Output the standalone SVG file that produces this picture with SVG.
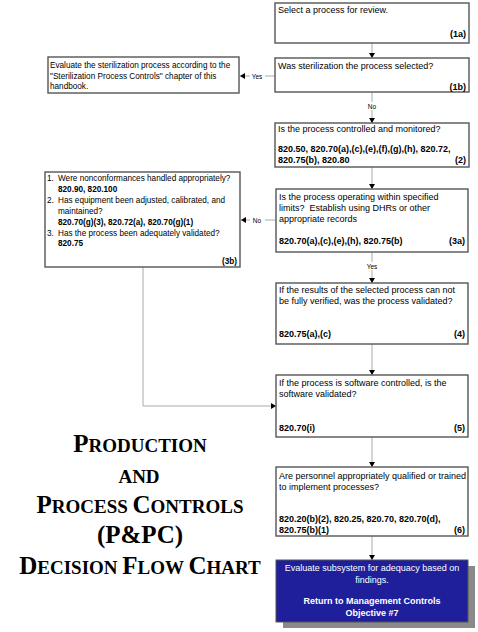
<svg xmlns="http://www.w3.org/2000/svg" width="478" height="632" viewBox="0 0 478 632">
<defs>
<marker id="ah" markerWidth="6" markerHeight="6" refX="5" refY="3" orient="auto" markerUnits="userSpaceOnUse">
<path d="M0,0 L5,3 L0,6 Z" fill="#000"/>
</marker>
<style>
.box{fill:#fff;stroke:#555;stroke-width:1.4}
.t{font-family:"Liberation Sans",Arial,sans-serif;font-size:9px;fill:#000}
.s{font-family:"Liberation Sans",Arial,sans-serif;font-size:8.2px;fill:#000}
.b{font-weight:bold}
.r{text-anchor:end}
.lbl{font-family:"Liberation Sans",Arial,sans-serif;font-size:6.5px;fill:#000;text-anchor:middle}
.c{fill:none;stroke:#aaa;stroke-width:1}
.w{font-family:"Liberation Sans",Arial,sans-serif;font-size:9px;fill:#fff;text-anchor:middle}
.ttl{font-family:"Liberation Serif","Times New Roman",serif;font-weight:bold;fill:#000;text-anchor:middle;font-size:19px}
.big{font-size:25px}
</style>
</defs>
<rect width="478" height="632" fill="#fff"/>

<g id="connectors">
<path class="c" d="M372,43 V58" marker-end="url(#ah)"/>
<path class="c" d="M372,92 V123" marker-end="url(#ah)"/>
<path class="c" d="M372,167 V189" marker-end="url(#ah)"/>
<path class="c" d="M372,252 V283" marker-end="url(#ah)"/>
<path class="c" d="M372,344 V375" marker-end="url(#ah)"/>
<path class="c" d="M372,437 V467" marker-end="url(#ah)"/>
<path class="c" d="M372,536 V560" marker-end="url(#ah)"/>
<path class="c" d="M275,76 H240" marker-end="url(#ah)"/>
<path class="c" d="M276,220 H241" marker-end="url(#ah)"/>
<path class="c" d="M143,267 V406 H276" marker-end="url(#ah)"/>
<rect x="364" y="102" width="16" height="8" fill="#fff"/>
<text class="lbl" x="372" y="109">No</text>
<rect x="363" y="262" width="18" height="8" fill="#fff"/>
<text class="lbl" x="372" y="269">Yes</text>
<rect x="250" y="72" width="15" height="8" fill="#fff"/>
<text class="lbl" x="257" y="78.5">Yes</text>
<rect x="250" y="216" width="15" height="8" fill="#fff"/>
<text class="lbl" x="257" y="222.5">No</text>
</g>

<g id="n1a">
<rect class="box" x="275" y="3" width="194" height="40"/>
<text class="t" x="278" y="13">Select a process for review.</text>
<text class="t b r" x="466" y="37">(1a)</text>
</g>

<g id="n1b">
<rect class="box" x="275" y="58" width="194" height="34"/>
<text class="t" x="278" y="69">Was sterilization the process selected?</text>
<text class="t b r" x="466" y="90">(1b)</text>
</g>

<g id="nster">
<rect class="box" x="48" y="57" width="191" height="36"/>
<text class="s" x="50" y="68">Evaluate the sterilization process according to the</text>
<text class="s" x="50" y="78.5">"Sterilization Process Controls" chapter of this</text>
<text class="s" x="50" y="89">handbook.</text>
</g>

<g id="n2">
<rect class="box" x="275" y="123" width="194" height="44"/>
<text class="t" x="278" y="132">Is the process controlled and monitored?</text>
<text class="t b" x="278" y="152">820.50, 820.70(a),(c),(e),(f),(g),(h), 820.72,</text>
<text class="t b" x="278" y="163">820.75(b), 820.80</text>
<text class="t b r" x="466" y="163">(2)</text>
</g>

<g id="n3a">
<rect class="box" x="276" y="189" width="192" height="63"/>
<text class="t" x="279" y="200">Is the process operating within specified</text>
<text class="t" x="279" y="211">limits?&#160; Establish using DHRs or other</text>
<text class="t" x="279" y="222">appropriate records</text>
<text class="t b" x="279" y="244">820.70(a),(c),(e),(h), 820.75(b)</text>
<text class="t b r" x="465" y="244">(3a)</text>
</g>

<g id="n3b">
<rect class="box" x="45" y="172" width="195" height="95"/>
<text class="s" x="47" y="181">1.</text>
<text class="s" x="58" y="181">Were nonconformances handled appropriately?</text>
<text class="s b" x="58" y="192">820.90, 820.100</text>
<text class="s" x="47" y="203">2.</text>
<text class="s" x="58" y="203">Has equipment been adjusted, calibrated, and</text>
<text class="s" x="58" y="214">maintained?</text>
<text class="s b" x="58" y="225">820.70(g)(3), 820.72(a), 820.70(g)(1)</text>
<text class="s" x="47" y="235.5">3.</text>
<text class="s" x="58" y="235.5">Has the process been adequately validated?</text>
<text class="s b" x="58" y="246">820.75</text>
<text class="s b r" x="237" y="264">(3b)</text>
</g>

<g id="n4">
<rect class="box" x="276" y="283" width="192" height="61"/>
<text class="t" x="279" y="293">If the results of the selected process can not</text>
<text class="t" x="279" y="304">be fully verified, was the process validated?</text>
<text class="t b" x="279" y="337">820.75(a),(c)</text>
<text class="t b r" x="465" y="337">(4)</text>
</g>

<g id="n5">
<rect class="box" x="276" y="375" width="192" height="62"/>
<text class="t" x="279" y="385.5">If the process is software controlled, is the</text>
<text class="t" x="279" y="396.5">software validated?</text>
<text class="t b" x="279" y="431">820.70(i)</text>
<text class="t b r" x="465" y="431">(5)</text>
</g>

<g id="n6">
<rect class="box" x="276" y="467" width="192" height="69"/>
<text class="t" x="279" y="478.5">Are personnel appropriately qualified or trained</text>
<text class="t" x="279" y="489.5">to implement processes?</text>
<text class="t b" x="279" y="521.5">820.20(b)(2), 820.25, 820.70, 820.70(d),</text>
<text class="t b" x="279" y="533">820.75(b)(1)</text>
<text class="t b r" x="465" y="533">(6)</text>
</g>

<g id="nend">
<rect x="283" y="566" width="192" height="62" fill="#8a8a8a"/>
<rect x="276" y="560" width="192" height="62" fill="#1f1f9c" stroke="#555" stroke-width="1"/>
<text class="w" x="372" y="571">Evaluate subsystem for adequacy based on</text>
<text class="w" x="372" y="582.5">findings.</text>
<text class="w b" x="372" y="604">Return to Management Controls</text>
<text class="w b" x="372" y="615.5">Objective #7</text>
</g>

<g id="title">
<text class="ttl" x="140" y="452"><tspan class="big">P</tspan>RODUCTION</text>
<text class="ttl" x="139" y="483">AND</text>
<text class="ttl" x="140" y="513"><tspan class="big">P</tspan>ROCESS <tspan class="big">C</tspan>ONTROLS</text>
<text class="ttl big" x="140" y="543">(P&amp;PC)</text>
<text class="ttl" x="140" y="574"><tspan class="big">D</tspan>ECISION <tspan class="big">F</tspan>LOW <tspan class="big">C</tspan>HART</text>
</g>
</svg>
